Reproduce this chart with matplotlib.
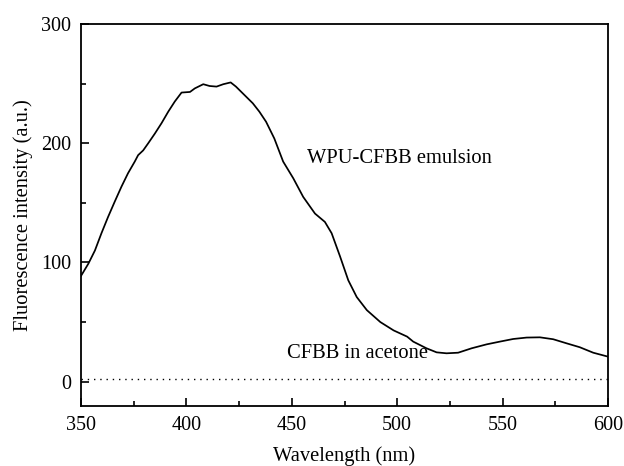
import numpy as np
import matplotlib.pyplot as plt
from matplotlib.ticker import MultipleLocator

plt.rcParams['font.family'] = ['Liberation Serif', 'DejaVu Serif']

# WPU-CFBB emulsion spectrum
wavelength = [350, 353.5, 356.6, 359.7, 362.8, 366, 369.2, 372.3, 375.5, 377.1,
              379.5, 381.9, 385, 388.2, 391.4, 394.5, 397.7, 401.7, 404, 408,
              411, 414.3, 417.5, 421, 423.5, 427.5, 431.5, 434.6, 437.8, 441.7,
              445.9, 450.7, 455.4, 461, 465.7, 468.9, 472.9, 476.8, 480.8, 485.6,
              492, 498.3, 504.7, 507.6, 513.9, 518.7, 523.4, 528.9, 535.3, 542.4,
              548.7, 555, 561.4, 567.7, 574, 580.3, 586.6, 593, 600]
emulsion = [88.7, 99, 110, 124.5, 138, 151, 163.6, 174.8, 184.6, 190,
            194, 200, 208, 216.8, 226.5, 235, 242.5, 243, 246, 249.5,
            248, 247.5, 249.5, 251, 247.5, 240.5, 233.5, 226.5, 218, 204,
            184.6, 170.6, 155, 141, 134, 124.5, 105, 85, 71, 60,
            50, 43, 37.8, 33.6, 28, 24.6, 23.8, 24.3, 28, 31.3,
            33.6, 35.8, 37, 37.2, 35.6, 32.2, 28.9, 24.3, 21]

# CFBB in acetone: flat near zero
acetone_x = [350, 600]
acetone_y = [2, 2]

fs = 14.8

fig = plt.figure(figsize=(6.24, 4.66), dpi=100)
ax = fig.add_axes([81/624, 1 - 406/466, (608-81)/624, (406-24)/466])

ax.plot(wavelength, emulsion, color='black', lw=1.25)
ax.plot(acetone_x, acetone_y, color='black', lw=1.0, ls=(0, (1, 3.5)))

ax.text(457, 187, 'WPU-CFBB emulsion', fontsize=fs, va='center', ha='left')
ax.text(447.5, 23.5, 'CFBB in acetone', fontsize=fs, va='center', ha='left')

ax.set_xlim(350, 600)
ax.set_ylim(-20.4, 300)
ax.xaxis.set_major_locator(MultipleLocator(50))
ax.xaxis.set_minor_locator(MultipleLocator(25))
ax.yaxis.set_major_locator(MultipleLocator(100))
ax.yaxis.set_minor_locator(MultipleLocator(50))
ax.tick_params(which='both', direction='in', top=False, right=False, labelsize=14.5, width=1.2)
ax.tick_params(which='major', length=6, pad=7)
ax.tick_params(which='minor', length=3.5)
for s in ax.spines.values():
    s.set_linewidth(1.3)

ax.set_xlabel('Wavelength (nm)', fontsize=fs, labelpad=8)
ax.set_ylabel('Fluorescence intensity (a.u.)', fontsize=fs, labelpad=6)

fig.savefig('out.png', dpi=100)
